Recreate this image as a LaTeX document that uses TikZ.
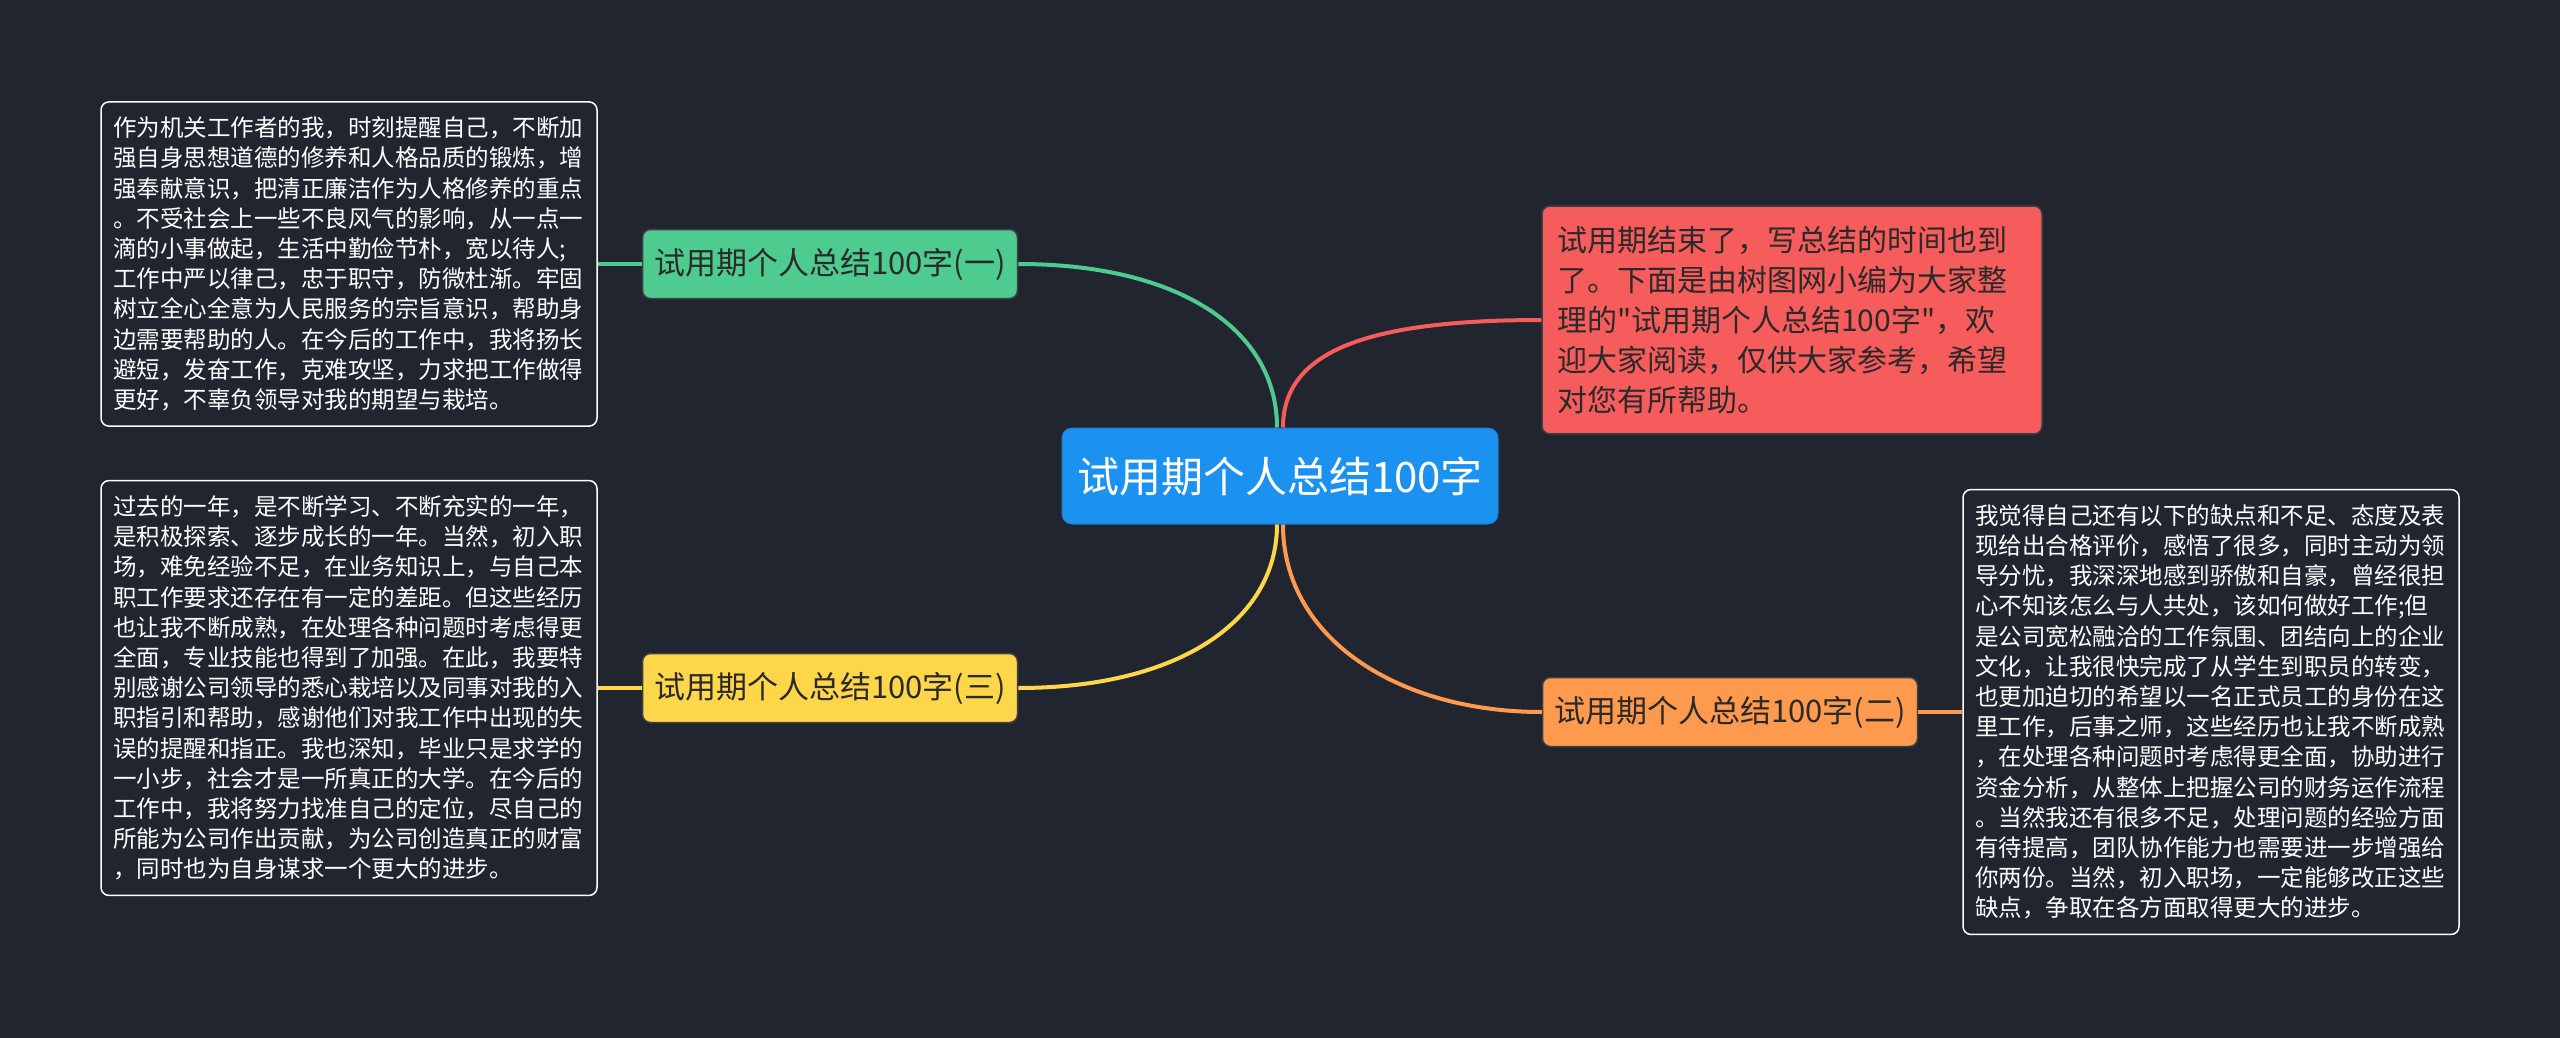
\documentclass[tikz,border=0pt]{standalone}
\usepackage{fontspec}
\setmainfont{Noto Sans CJK SC}[Ligatures=TeXOff]
\usepackage{xcolor}
\usepackage{tikz}
\usetikzlibrary{positioning}
\definecolor{bgdark}{HTML}{212530}
\definecolor{rootblue}{HTML}{1B91F0}
\definecolor{brgreen}{HTML}{4ECB8E}
\definecolor{brred}{HTML}{F65C5C}
\definecolor{bryellow}{HTML}{FDD649}
\definecolor{brorange}{HTML}{FE9A4D}
\definecolor{labeldark}{HTML}{2A2A2A}

\begin{document}
\begin{tikzpicture}[
x=1pt,y=-1pt,
node distance=44pt,
root/.style={fill=rootblue,draw=rootblue!85!black,line width=1pt,rounded corners=10pt,minimum width=436pt,minimum height=96pt,text=white,font=\fontsize{42}{50}\selectfont},
branch/.style={draw=black!75,line width=1.5pt,rounded corners=8pt,minimum width=375pt,minimum height=69pt,text=labeldark,font=\fontsize{31}{36}\selectfont},
intro/.style={fill=brred,draw=black!75,line width=1.5pt,rounded corners=8pt,text=labeldark,align=left,text width=470pt,inner xsep=15pt,inner ysep=20pt,font=\fontsize{30}{40}\selectfont},
note/.style={draw=white,line width=1.5pt,rounded corners=8pt,text=white,align=left,text width=472pt,inner xsep=12pt,inner ysep=15pt,font=\fontsize{23.5}{30.2}\selectfont},
link/.style={line width=4pt}
]
\fill[bgdark] (0,0) rectangle (2560,1038);
\node[root] (root) at (1280,476) {试用期个人总结100字};
\node[branch,fill=brgreen] (one) at (830,264) {试用期个人总结100字(一)};
\node[branch,fill=brorange] (two) at (1730,712) {试用期个人总结100字(二)};
\node[branch,fill=bryellow] (three) at (830,688) {试用期个人总结100字(三)};
\node[intro] (intro) at (1792,320) {试用期结束了，写总结的时间也到\\了。下面是由树图网小编为大家整\\理的"试用期个人总结100字"，欢\\迎大家阅读，仅供大家参考，希望\\对您有所帮助。};
\node[note,left=of one] (noteone) {作为机关工作者的我，时刻提醒自己，不断加\\强自身思想道德的修养和人格品质的锻炼，增\\强奉献意识，把清正廉洁作为人格修养的重点\\。不受社会上一些不良风气的影响，从一点一\\滴的小事做起，生活中勤俭节朴，宽以待人;\\工作中严以律己，忠于职守，防微杜渐。牢固\\树立全心全意为人民服务的宗旨意识，帮助身\\边需要帮助的人。在今后的工作中，我将扬长\\避短，发奋工作，克难攻坚，力求把工作做得\\更好，不辜负领导对我的期望与栽培。};
\node[note,right=of two] (notetwo) {我觉得自己还有以下的缺点和不足、态度及表\\现给出合格评价，感悟了很多，同时主动为领\\导分忧，我深深地感到骄傲和自豪，曾经很担\\心不知该怎么与人共处，该如何做好工作;但\\是公司宽松融洽的工作氛围、团结向上的企业\\文化，让我很快完成了从学生到职员的转变，\\也更加迫切的希望以一名正式员工的身份在这\\里工作，后事之师，这些经历也让我不断成熟\\，在处理各种问题时考虑得更全面，协助进行\\资金分析，从整体上把握公司的财务运作流程\\。当然我还有很多不足，处理问题的经验方面\\有待提高，团队协作能力也需要进一步增强给\\你两份。当然，初入职场，一定能够改正这些\\缺点，争取在各方面取得更大的进步。};
\node[note,left=of three] (notethree) {过去的一年，是不断学习、不断充实的一年，\\是积极探索、逐步成长的一年。当然，初入职\\场，难免经验不足，在业务知识上，与自己本\\职工作要求还存在有一定的差距。但这些经历\\也让我不断成熟，在处理各种问题时考虑得更\\全面，专业技能也得到了加强。在此，我要特\\别感谢公司领导的悉心栽培以及同事对我的入\\职指引和帮助，感谢他们对我工作中出现的失\\误的提醒和指正。我也深知，毕业只是求学的\\一小步，社会才是一所真正的大学。在今后的\\工作中，我将努力找准自己的定位，尽自己的\\所能为公司作出贡献，为公司创造真正的财富\\，同时也为自身谋求一个更大的进步。};
\draw[link,brgreen] ([xshift=-3pt]root.north) .. controls (1277,330) and (1180,264) .. (one.east);
\draw[link,brred] ([xshift=3pt]root.north) .. controls (1283,350) and (1370,320) .. (intro.west);
\draw[link,bryellow] ([xshift=-3pt]root.south) .. controls (1277,620) and (1180,688) .. (three.east);
\draw[link,brorange] ([xshift=3pt]root.south) .. controls (1283,640) and (1400,712) .. (two.west);
\draw[link,brgreen] (one.west) -- (noteone.east);
\draw[link,bryellow] (three.west) -- (notethree.east);
\draw[link,brorange] (two.east) -- (notetwo.west);
\end{tikzpicture}
\end{document}
